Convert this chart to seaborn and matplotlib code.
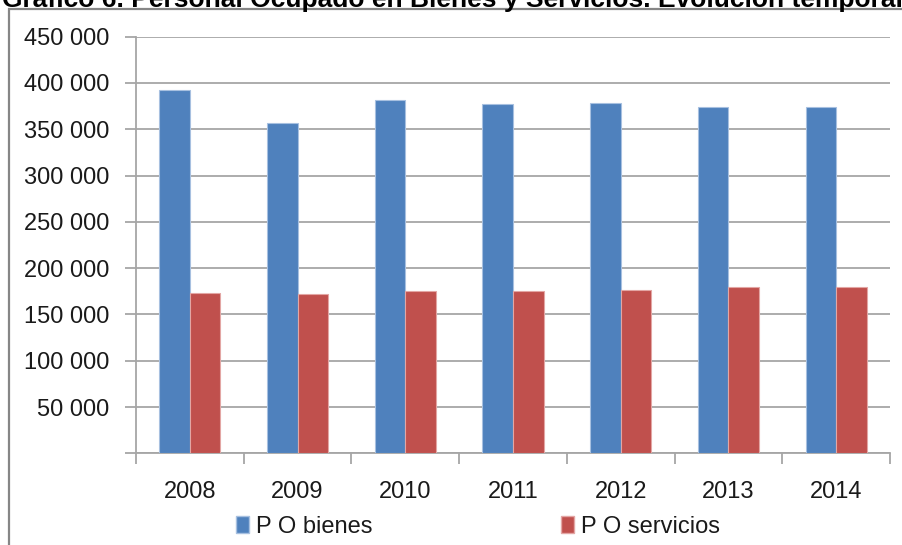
import matplotlib
matplotlib.use("Agg")
import matplotlib.pyplot as plt
import matplotlib.ticker as mticker
from matplotlib.patches import Rectangle, Patch
import seaborn as sns
import pandas as pd

years = ["2008", "2009", "2010", "2011", "2012", "2013", "2014"]
bienes = [392300, 356400, 381200, 377200, 378600, 374300, 374300]
servicios = [173400, 172000, 175300, 175000, 176300, 179300, 179300]
series_names = ["P O bienes", "P O servicios"]
title = "Gráfico 6. Personal Ocupado en Bienes y Servicios. Evolución temporal"

df = pd.DataFrame({
    "year": years * 2,
    "value": bienes + servicios,
    "serie": [series_names[0]] * len(years) + [series_names[1]] * len(years),
})

sns.set_theme(style="white")
plt.rcParams["font.family"] = ["Liberation Sans", "DejaVu Sans"]

W, H = 902, 545
fig = plt.figure(figsize=(W / 100, H / 100), dpi=100)
ax = fig.add_axes([136 / W, 1 - 453.3 / H, (890 - 136) / W, (453.3 - 36.7) / H])

colors = ["#4F81BD", "#C0504D"]
edge = {"#4F81BD": "#A7C0E0", "#C0504D": "#E3A6A4"}
sns.barplot(data=df, x="year", y="value", hue="serie", palette=colors,
            width=0.567, ax=ax, legend=False, saturation=1, zorder=3)
for i, p in enumerate(ax.patches):
    c = colors[0] if i < len(years) else colors[1]
    p.set_edgecolor(edge[c])
    p.set_linewidth(0.8)

ax.set_ylim(0, 450000)
ax.set_xlim(-0.5, len(years) - 0.5)
ax.yaxis.set_major_locator(mticker.MultipleLocator(50000))
ax.yaxis.set_major_formatter(mticker.FuncFormatter(
    lambda v, _: "" if v == 0 else f"{int(v):,}".replace(",", " ")))
ax.grid(axis="y", color="#A6A6A6", linewidth=1.3, zorder=0)
ax.set_axisbelow(True)
ax.set_xlabel("")
ax.set_ylabel("")

for s in ["top", "right"]:
    ax.spines[s].set_visible(False)
for s in ["left", "bottom"]:
    ax.spines[s].set_color("#A6A6A6")
    ax.spines[s].set_linewidth(1.3)

ax.tick_params(axis="y", which="major", length=8, width=1.3, color="#A6A6A6",
               direction="out", pad=11, labelsize=17, labelcolor="#1a1a1a", left=True)
ax.set_xticks(range(len(years)))
ax.set_xticklabels(years)
ax.set_xticks([i - 0.5 for i in range(len(years) + 1)], minor=True)
ax.tick_params(axis="x", which="major", length=0, pad=20, labelsize=17, labelcolor="#1a1a1a")
ax.tick_params(axis="x", which="minor", length=8, width=1.3, color="#A6A6A6",
               direction="out", bottom=True)

handles = [Patch(facecolor=colors[0], edgecolor=edge[colors[0]]),
           Patch(facecolor=colors[1], edgecolor=edge[colors[1]])]
fig.legend(handles, series_names, loc="center", bbox_to_anchor=(478 / W, 1 - 527 / H),
           ncol=2, frameon=False, fontsize=17, handlelength=0.55, handleheight=0.7,
           handletextpad=0.3, columnspacing=8.0, labelcolor="#1a1a1a")

fig.patches.append(Rectangle((8.5 / W, -0.1), 1.2, 1.1 - 9.5 / H, transform=fig.transFigure,
                             fill=False, edgecolor="#868686", linewidth=1.6))

fig.text(2 / W, 1 - 6.5 / H, title, ha="left", va="baseline", fontsize=19,
         fontweight="bold", color="black")

fig.savefig("out.png", dpi=100)
